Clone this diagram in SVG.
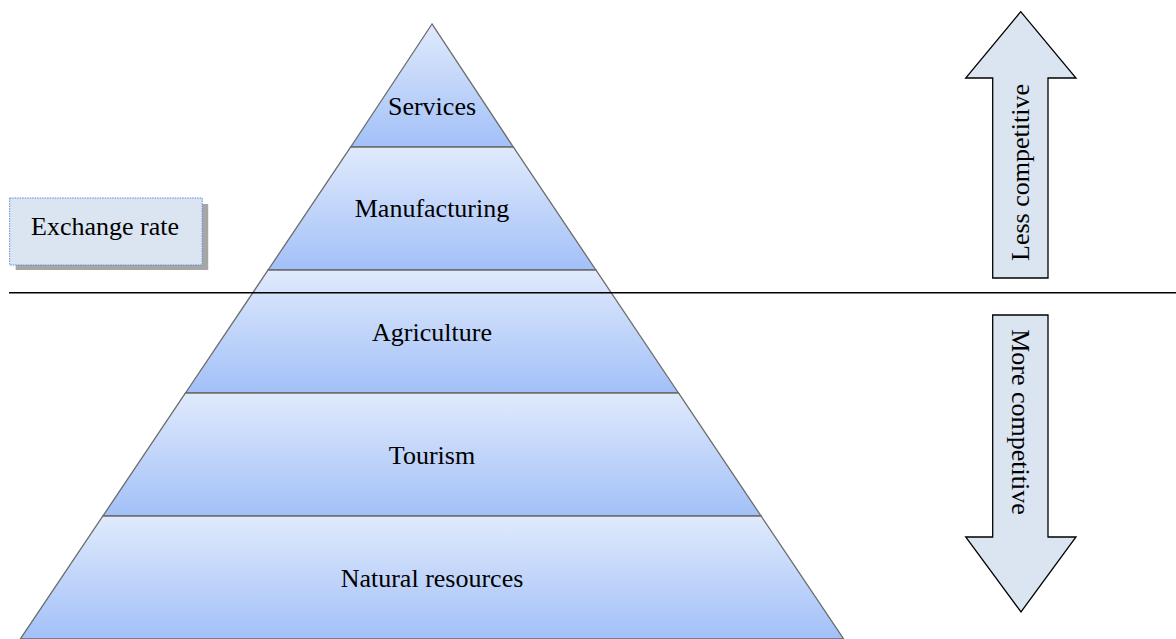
<svg xmlns="http://www.w3.org/2000/svg" width="1176" height="639" viewBox="0 0 1176 639">
<style>
.band{stroke:#6b6b6b;stroke-width:1.3;fill:url(#g)}
.t{font-family:"Liberation Serif","Times New Roman",serif;font-size:26px;fill:#000;text-anchor:middle}
.arr{fill:#dbe5f1;stroke:#000;stroke-width:1.3}
</style>
<defs>
<linearGradient id="g" x1="0" y1="0" x2="0" y2="1">
<stop offset="0" stop-color="#e0eafc"/>
<stop offset="1" stop-color="#a2c0f8"/>
</linearGradient>
</defs>
<rect width="1176" height="639" fill="#fff"/>
<g id="services"><polygon class="band" points="432,24 350.7,147 513.3,147"/><text class="t" x="432" y="115">Services</text></g>
<g id="manufacturing"><polygon class="band" points="350.7,147 513.3,147 595.9,270 268.1,270"/><text class="t" x="432" y="217">Manufacturing</text></g>
<g id="agriculture"><polygon class="band" points="268.1,270 595.9,270 678.5,393 185.5,393"/><text class="t" x="432" y="341">Agriculture</text></g>
<g id="tourism"><polygon class="band" points="185.5,393 678.5,393 761.1,516 102.9,516"/><text class="t" x="432" y="464">Tourism</text></g>
<g id="natural"><polygon class="band" points="102.9,516 761.1,516 843.7,639 20.3,639"/><text class="t" x="432" y="587">Natural resources</text></g>
<g id="connectors"><line x1="9" y1="292.7" x2="1176" y2="292.7" stroke="#000" stroke-width="1.6"/></g>
<g id="exchange">
<rect x="15.7" y="204" width="192.5" height="66" fill="#a6a6a6"/>
<rect x="9.7" y="198" width="192.5" height="67" fill="#dbe5f1" stroke="#5b8fd6" stroke-width="1" stroke-dasharray="1.5,1"/>
<text class="t" x="105" y="235">Exchange rate</text>
</g>
<g id="less">
<polygon class="arr" points="1020.7,11.7 1076,78 1048,78 1048,278 992.7,278 992.7,78 965.7,78"/>
<text class="t" transform="translate(1029,172.5) rotate(-90)" x="0" y="0">Less competitive</text>
</g>
<g id="more">
<polygon class="arr" points="992.7,315 1048,315 1048,537 1076,537 1021,612 965.7,537 992.7,537"/>
<text class="t" transform="translate(1012,422) rotate(90)" x="0" y="0">More competitive</text>
</g>
</svg>
